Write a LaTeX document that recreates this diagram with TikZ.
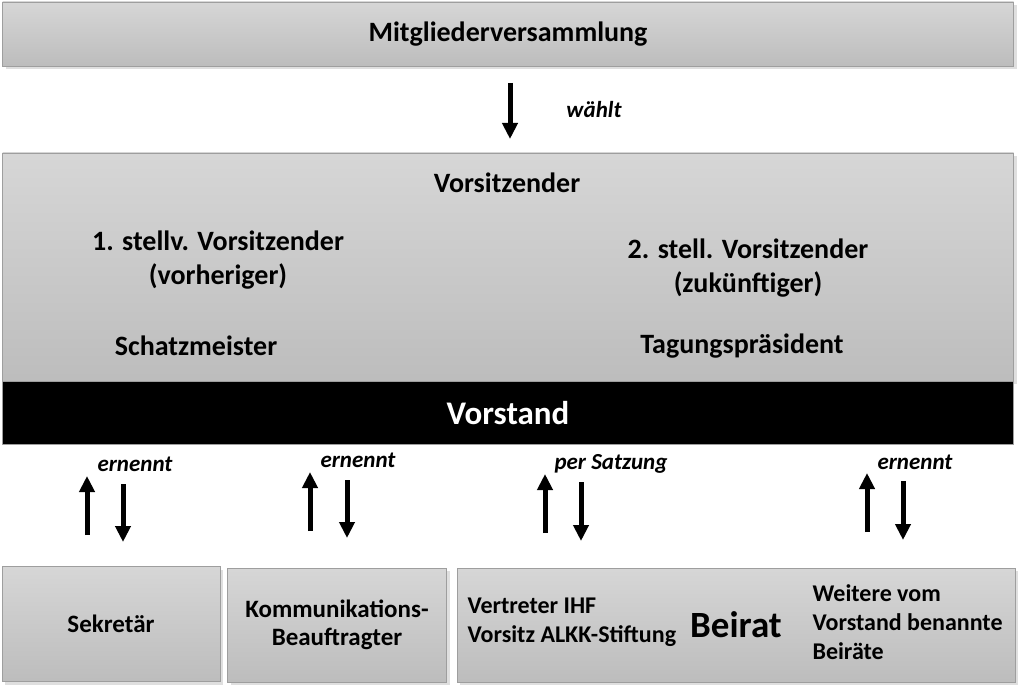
\documentclass[tikz,border=0pt]{standalone}
\usepackage{fontspec}
\setmainfont{Carlito}
\usetikzlibrary{arrows.meta,shadows}
\definecolor{paneltop}{gray}{0.84}
\definecolor{panelbottom}{gray}{0.74}
\definecolor{panelline}{gray}{0.62}

\begin{document}
\begin{tikzpicture}[x=1pt,y=-1pt,
    panel/.style ={draw=panelline, top color=paneltop, bottom color=panelbottom,
      drop shadow={opacity=0.25, shadow xshift=3pt, shadow yshift=-3pt},
      inner sep=0pt, font=\bfseries\fontsize{25}{28}\selectfont, align=center},
    bar/.style ={fill=black, draw=panelline, text=white, inner sep=0pt,
      font=\bfseries\fontsize{33}{36}\selectfont},
    role/.style ={font=\bfseries\fontsize{28}{34}\selectfont, align=center},
    note/.style ={font=\bfseries\itshape\fontsize{23}{26}\selectfont},
    link/.style ={line width=5pt, -{Triangle[width=15pt,length=16pt]}}]
   \useasboundingbox (0,0) rectangle (1024,692);

   \node[panel, minimum width=1011, minimum height=64,
     font=\bfseries\fontsize{28}{32}\selectfont] (MV) at (508,34) {Mitgliederversammlung};
   \node[panel, minimum width=1011, minimum height=228] (VB) at (508,267) {};
   \node[bar, minimum width=1011, minimum height=63] (VS) at (508,413) {Vorstand};

   \node[role] (V0) at (507,183) {Vorsitzender};
   \node[role] (V1) at (218,260) {1. stellv. Vorsitzender\\(vorheriger)};
   \node[role] (V2) at (748,268) {2. stell. Vorsitzender\\(zukünftiger)};
   \node[role] (SM) at (196,346) {Schatzmeister};
   \node[role] (TP) at (742,346) {Tagungspräsident};

   \node[panel, minimum width=218, minimum height=115] (SK) at (111,624) {Sekretär};
   \node[panel, minimum width=219, minimum height=114] (KB) at (337,625)
     {Kommunikations-\\Beauftragter};
   \node[panel, minimum width=558, minimum height=114] (BR) at (736,625) {};
   \node[font=\bfseries\fontsize{24}{29}\selectfont, align=left, anchor=west] (BL)
     at (464,622) {Vertreter IHF\\Vorsitz ALKK-Stiftung};
   \node[font=\bfseries\fontsize{37}{40}\selectfont] (BT) at (736,625) {Beirat};
   \node[font=\bfseries\fontsize{24}{29}\selectfont, align=left, anchor=west] (BW)
     at (809,622) {Weitere vom\\Vorstand benannte\\Beiräte};

   % wählt
   \coordinate (w1) at (510,83);
   \coordinate (w2) at (510,139);
   \draw[link] (w1) to (w2);
   \node[note] (WL) at (594,110) {wählt};

   % Vorstand <-> unten
   \coordinate (a1) at (87,535);  \coordinate (a2) at (87,476);
   \coordinate (b1) at (123,484); \coordinate (b2) at (123,542);
   \coordinate (c1) at (310,531); \coordinate (c2) at (310,472);
   \coordinate (d1) at (347,480); \coordinate (d2) at (347,538);
   \coordinate (e1) at (545,533); \coordinate (e2) at (545,474);
   \coordinate (f1) at (581,482); \coordinate (f2) at (581,541);
   \coordinate (g1) at (867,532); \coordinate (g2) at (867,473);
   \coordinate (h1) at (903,481); \coordinate (h2) at (903,540);
   \draw[link] (a1) to (a2);
   \draw[link] (b1) to (b2);
   \draw[link] (c1) to (c2);
   \draw[link] (d1) to (d2);
   \draw[link] (e1) to (e2);
   \draw[link] (f1) to (f2);
   \draw[link] (g1) to (g2);
   \draw[link] (h1) to (h2);
   \node[note] (N1) at (135,464) {ernennt};
   \node[note] (N2) at (358,460) {ernennt};
   \node[note] (N3) at (611,464) {per Satzung};
   \node[note] (N4) at (915,462) {ernennt};
 \end{tikzpicture}
\end{document}
